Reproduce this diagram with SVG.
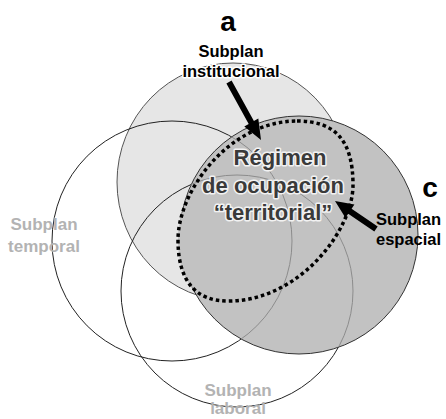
<svg xmlns="http://www.w3.org/2000/svg" xmlns:xlink="http://www.w3.org/1999/xlink" width="446" height="419" viewBox="0 0 446 419">
<style>
text{font-family:"Liberation Sans",Arial,sans-serif;font-weight:bold;text-anchor:middle}
.big{font-size:28px;fill:#000}
.lab{font-size:16.5px;fill:#000}
.halo{paint-order:stroke;stroke:#fff;stroke-width:3;stroke-linejoin:round}
.grey{font-size:17px;fill:#b3b3b3}
.main{font-size:22px;fill:#3a3a3a;paint-order:stroke;stroke:#f2f2f2;stroke-width:3;stroke-linejoin:round}
.ring{fill:none;stroke:#222;stroke-width:1}
.ringin{fill:none;stroke:#8c8c8c;stroke-width:1}
.dark{fill:#c2c2c2}
.arrow{fill:#000}
</style>
<defs>
<circle id="cTemp" cx="172" cy="241" r="120"/>
<circle id="cLab" cx="237" cy="291" r="116"/>
<path id="pReg" d="M297,121 C335,121 353,140 353,185 C353,230 300,300 230,301 C195,302 178,280 178,240 C178,190 230,121 297,121 Z"/>
<clipPath id="clipDark">
<circle cx="299" cy="235" r="119"/>
<use xlink:href="#pReg"/>
</clipPath>
</defs>
<rect width="446" height="419" fill="#fff"/>
<g id="institucional">
<ellipse cx="233" cy="182" rx="116" ry="119" fill="#e6e6e6" stroke="#555" stroke-width="1"/>
<text class="lab halo" x="231" y="57">Subplan</text>
<text class="lab halo" x="231" y="77">institucional</text>
</g>
<g id="temporal">
<use xlink:href="#cTemp" class="ring"/>
<text class="grey" x="44" y="230">Subplan</text>
<text class="grey" x="44" y="252">temporal</text>
</g>
<g id="laboral">
<use xlink:href="#cLab" class="ring"/>
<text class="grey" x="238" y="396">Subplan</text>
<text class="grey" x="238" y="414">laboral</text>
</g>
<g id="espacial">
<circle cx="299" cy="235" r="119" class="dark" stroke="#333" stroke-width="1"/>
<text class="lab" x="376" y="225" style="text-anchor:start">Subplan</text>
<text class="lab" x="376" y="245" style="text-anchor:start">espacial</text>
</g>
<g id="regimen">
<use xlink:href="#pReg" class="dark"/>
<g clip-path="url(#clipDark)">
<use xlink:href="#cTemp" class="ringin"/>
<use xlink:href="#cLab" class="ringin"/>
</g>
<use xlink:href="#pReg" fill="none" stroke="#000" stroke-width="3.5" stroke-dasharray="3.5 3"/>
<text class="main" x="280" y="165">Régimen</text>
<text class="main" x="273" y="193">de ocupación</text>
<text class="main" x="273" y="220">“territorial”</text>
</g>
<g id="connectors">
<polygon class="arrow" points="226.4,83.4 248.7,123.9 244.3,126.4 261,140 258.3,118.6 253.9,121 231.6,80.6"/>
<polygon class="arrow" points="377.7,226.5 351.6,208.7 354.4,204.6 335,201 345.4,217.8 348.2,213.7 374.3,231.5"/>
</g>
<g id="labels">
<text class="big" x="228" y="31">a</text>
<text class="big" x="430" y="197">c</text>
</g>
</svg>
